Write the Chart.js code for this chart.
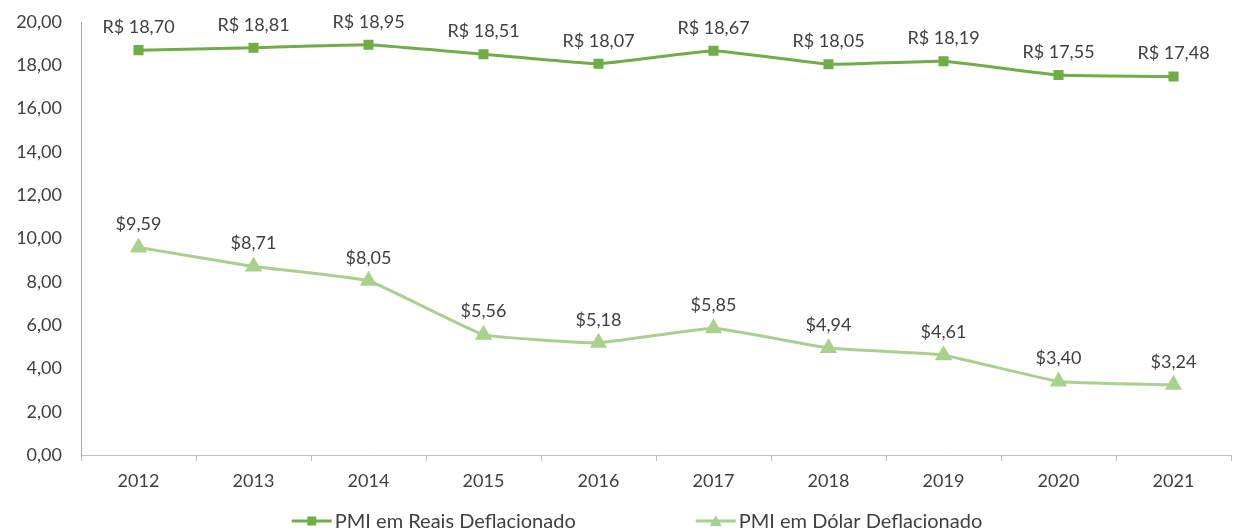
<!DOCTYPE html>
<html lang="pt-BR">
<head>
    <meta charset="UTF-8">
    <title>PMI Deflacionado</title>
    <script src="https://cdn.jsdelivr.net/npm/chart.js"></script>
    <style>
        body, html {
            margin: 0;
            padding: 0;
            overflow: hidden;
            background: #ffffff;
        }
        .wrap {
            width: 1241px;
            height: 531px;
        }
    </style>
</head>
<body>
    <div class="wrap"><canvas id="pmiChart"></canvas></div>

    <script>
        const years = ['2012', '2013', '2014', '2015', '2016', '2017', '2018', '2019', '2020', '2021'];
        const reais = [18.70, 18.81, 18.95, 18.51, 18.07, 18.67, 18.05, 18.19, 17.55, 17.48];
        const dolar = [9.59, 8.71, 8.05, 5.56, 5.18, 5.85, 4.94, 4.61, 3.40, 3.24];
        const seriesNames = ['PMI em Reais Deflacionado', 'PMI em Dólar Deflacionado'];
        const labelPrefix = ['R$ ', '$'];

        const FONT = 'Lato, "Open Sans", sans-serif';
        const TEXT = '#404040';
        const fmt = v => v.toFixed(2).replace('.', ',');

        // value labels above each point
        const valueLabels = {
            id: 'valueLabels',
            afterDatasetsDraw(chart) {
                const ctx = chart.ctx;
                ctx.save();
                ctx.font = '18px ' + FONT;
                ctx.fillStyle = TEXT;
                ctx.textAlign = 'center';
                ctx.textBaseline = 'bottom';
                chart.data.datasets.forEach((ds, i) => {
                    chart.getDatasetMeta(i).data.forEach((pt, j) => {
                        ctx.fillText(labelPrefix[i] + fmt(ds.data[j]), pt.x, pt.y - 14);
                    });
                });
                ctx.restore();
            }
        };

        // legend at the bottom: line with marker, then text
        const bottomLegend = {
            id: 'bottomLegend',
            afterDraw(chart) {
                const ctx = chart.ctx;
                ctx.save();
                ctx.font = '20px ' + FONT;
                ctx.textBaseline = 'middle';
                const lineLen = 40, gapText = 3, gapItems = 120;
                const widths = seriesNames.map(n => ctx.measureText(n).width);
                const total = widths.reduce((a, b) => a + b, 0) + seriesNames.length * (lineLen + gapText) + gapItems;
                let x = 637 - total / 2;
                const y = 521;
                chart.data.datasets.forEach((ds, i) => {
                    ctx.strokeStyle = ds.borderColor;
                    ctx.lineWidth = 3;
                    ctx.beginPath();
                    ctx.moveTo(x, y);
                    ctx.lineTo(x + lineLen, y);
                    ctx.stroke();
                    ctx.fillStyle = ds.borderColor;
                    const cx = x + lineLen / 2;
                    if (i === 0) {
                        ctx.fillRect(cx - 4.5, y - 4.5, 9, 9);
                    } else {
                        ctx.beginPath();
                        ctx.moveTo(cx, y - 6);
                        ctx.lineTo(cx + 6, y + 5);
                        ctx.lineTo(cx - 6, y + 5);
                        ctx.closePath();
                        ctx.fill();
                    }
                    ctx.fillStyle = TEXT;
                    ctx.textAlign = 'left';
                    ctx.fillText(seriesNames[i], x + lineLen + gapText, y + 1);
                    x += lineLen + gapText + widths[i] + gapItems;
                });
                ctx.restore();
            }
        };

        const ctx = document.getElementById('pmiChart').getContext('2d');
        const pmiChart = new Chart(ctx, {
            type: 'line',
            data: {
                labels: years,
                datasets: [{
                    label: seriesNames[0],
                    data: reais,
                    borderColor: '#70AD47',
                    backgroundColor: '#70AD47',
                    borderWidth: 3,
                    pointStyle: 'rect',
                    pointRadius: 5,
                    pointHoverRadius: 5,
                    tension: 0.1
                }, {
                    label: seriesNames[1],
                    data: dolar,
                    borderColor: '#A9D18E',
                    backgroundColor: '#A9D18E',
                    borderWidth: 3,
                    pointStyle: 'triangle',
                    pointRadius: 7,
                    pointHoverRadius: 7,
                    tension: 0.1
                }]
            },
            options: {
                responsive: true,
                maintainAspectRatio: false,
                animation: false,
                layout: {
                    padding: { top: 22, right: 0, bottom: 36, left: 0 }
                },
                plugins: {
                    legend: { display: false },
                    tooltip: { enabled: false }
                },
                scales: {
                    x: {
                        offset: true,
                        grid: {
                            offset: true,
                            drawOnChartArea: false,
                            drawTicks: true,
                            tickLength: 6,
                            color: '#bfbfbf'
                        },
                        border: { display: true, color: '#bfbfbf', width: 1 },
                        ticks: {
                            color: TEXT,
                            font: { family: FONT, size: 18 },
                            padding: 9,
                            maxRotation: 0
                        },
                        afterFit(scale) {
                            scale.height = 40;
                            scale.paddingLeft = 0;
                            scale.paddingRight = 0;
                        }
                    },
                    y: {
                        min: 0,
                        max: 20,
                        grid: { display: false, drawTicks: false },
                        border: { display: true, color: '#a6a6a6', width: 1 },
                        ticks: {
                            stepSize: 2,
                            color: TEXT,
                            padding: 19,
                            font: { family: FONT, size: 18 },
                            callback: v => fmt(v)
                        },
                        afterFit(scale) {
                            scale.width = 81;
                            scale.paddingTop = 0;
                            scale.paddingBottom = 0;
                        }
                    }
                }
            },
            plugins: [valueLabels, bottomLegend]
        });
    </script>
</body>
</html>
